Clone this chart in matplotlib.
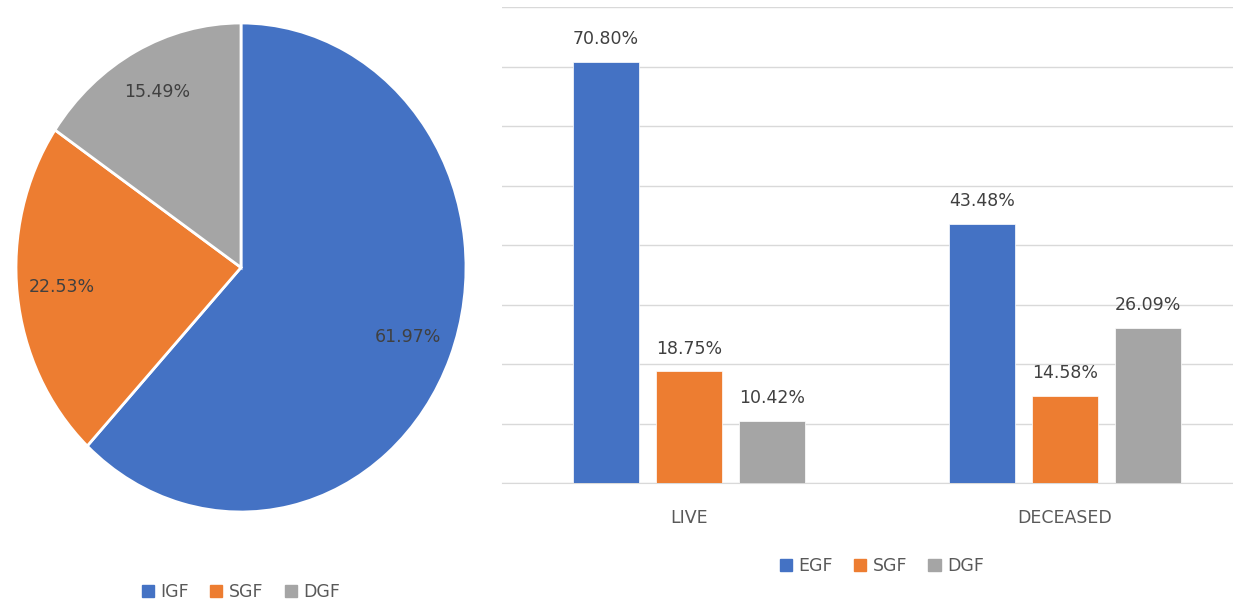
import matplotlib
matplotlib.use("Agg")
import matplotlib.pyplot as plt
import numpy as np

# ---- data ----
pie_labels = ["IGF", "SGF", "DGF"]
pie_values = [61.97, 22.53, 15.49]

bar_categories = ["LIVE", "DECEASED"]
bar_series = ["EGF", "SGF", "DGF"]
egf_values = [70.80, 43.48]
sgf_values = [18.75, 14.58]
dgf_values = [10.42, 26.09]

colors = ["#4472C4", "#ED7D31", "#A5A5A5"]
txt_dark = "#404040"
txt_axis = "#595959"

W, H = 1233, 604
fig = plt.figure(figsize=(W / 100, H / 100), dpi=100)
plt.rcParams["font.family"] = ["DejaVu Sans"]

def px(l, t, r, b):
    return [l / W, 1 - b / H, (r - l) / W, (b - t) / H]

# ---- pie ----
axp = fig.add_axes(px(16, 23, 466, 512))
wedges, _ = axp.pie(pie_values, colors=colors, startangle=90, counterclock=False,
                    wedgeprops=dict(edgecolor="white", linewidth=2))
axp.set_aspect("auto")
axp.set_xlim(-1, 1)
axp.set_ylim(-1, 1)
for w, v in zip(wedges, pie_values):
    mid = np.deg2rad((w.theta1 + w.theta2) / 2)
    r = 0.8
    axp.text(r * np.cos(mid), r * np.sin(mid) + 0.01, f"{v:.2f}%", ha="center", va="center",
             fontsize=12.5, color=txt_dark)
axp.axis("off")
hp = [plt.Rectangle((0, 0), 1, 1, color=c) for c in colors]
fig.legend(hp, pie_labels, loc="center", bbox_to_anchor=(241 / W, 1 - 592 / H),
           ncol=3, frameon=False, fontsize=12.5, handlelength=0.7, handleheight=0.7,
           handletextpad=0.4, columnspacing=1.2, labelcolor=txt_axis,
           borderpad=0.1)

# ---- bars ----
axb = fig.add_axes(px(502, 7, 1233, 483))
x = np.arange(len(bar_categories))
bw = 0.176
off = 0.221
all_series = [egf_values, sgf_values, dgf_values]
for i, (name, vals) in enumerate(zip(bar_series, all_series)):
    bars = axb.bar(x + (i - 1) * off, vals, width=bw, color=colors[i], label=name,
                   edgecolor="white", linewidth=0.5, zorder=3)
    for b, v in zip(bars, vals):
        axb.annotate(f"{v:.2f}%", (b.get_x() + b.get_width() / 2, v),
                     xytext=(0, 10), textcoords="offset points", ha="center", va="bottom",
                     fontsize=12.5, color=txt_dark)
axb.set_xlim(-0.497, 1.447)
axb.set_ylim(0, 80)
axb.set_yticks(np.arange(0, 81, 10))
axb.yaxis.grid(True, color="#D9D9D9", linewidth=1, zorder=0)
axb.tick_params(axis="y", left=False, labelleft=False)
axb.tick_params(axis="x", bottom=False, labelsize=12.5, labelcolor=txt_axis, pad=15)
axb.set_xticks(x)
axb.set_xticklabels(bar_categories)
for s in ["top", "right", "left"]:
    axb.spines[s].set_visible(False)
axb.spines["bottom"].set_color("#D9D9D9")
axb.spines["bottom"].set_zorder(1)

hb = [plt.Rectangle((0, 0), 1, 1, color=c) for c in colors]
fig.legend(hb, bar_series, loc="center", bbox_to_anchor=(882 / W, 1 - 566 / H),
           ncol=3, frameon=False, fontsize=12.5, handlelength=0.7, handleheight=0.7,
           handletextpad=0.4, columnspacing=1.2, labelcolor=txt_axis)

fig.savefig("out.png", dpi=100)
